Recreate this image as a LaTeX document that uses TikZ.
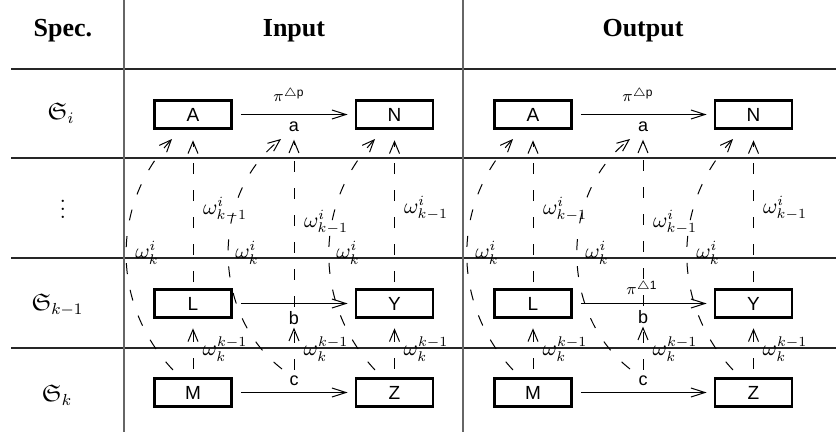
\documentclass[tikz,border=0pt]{standalone}
\usepackage{amsmath,amssymb}
\usepackage{fontspec}
\newfontfamily\hdr{Liberation Serif}
\newfontfamily\sfn{Liberation Sans}
\usetikzlibrary{arrows.meta,calc}
\begin{document}
\begin{tikzpicture}[x=0.5pt,y=-0.5pt,
  box/.style={draw,line width=1.4pt,minimum width=38.5pt,minimum height=14pt,inner sep=0pt,font=\sfn\fontsize{9.5}{11}\selectfont},
  lab/.style={inner sep=1pt,font=\sfn\fontsize{9}{11}\selectfont},
  hd/.style={anchor=base,font=\hdr\bfseries\fontsize{13}{15}\selectfont},
  rowl/.style={font=\fontsize{12}{14}\selectfont},
  om/.style={inner sep=0pt,font=\fontsize{10.5}{12}\selectfont},
  pil/.style={inner sep=0pt,font=\fontsize{8}{9}\selectfont},
  gridh/.style={line width=0.8pt,black!85},
  gridv/.style={line width=0.8pt,black!60},
  harr/.style={-{Straight Barb[length=7pt,width=4.5pt]},line width=0.5pt,shorten <=4pt,shorten >=3.5pt},
  dl/.style={dash pattern=on 5.5pt off 8pt,line width=0.5pt,-{Straight Barb[length=6pt,width=5pt]}},
]
\useasboundingbox (0,0) rectangle (836,434);
% table
\foreach \yy in {69,158,258,348} \draw[gridh] (11,\yy) -- (836,\yy);
\draw[gridv] (124,0) -- (124,432);
\draw[gridv] (463,0) -- (463,432);
\node[hd] (hs) at (63,36) {Spec.};
\node[hd] (hi) at (294,36) {Input};
\node[hd] (ho) at (643,36) {Output};
\node[rowl] (r1) at (61,113) {$\mathfrak{S}_i$};
\node[rowl] (r2) at (63,203) {$\vdots$};
\node[rowl] (r3) at (57.5,305) {$\mathfrak{S}_{k-1}$};
\node[rowl] (r4) at (57,395) {$\mathfrak{S}_k$};

% ---------- Input ----------
\node[box] (A1) at (193,114.5) {A};
\node[box] (N1) at (394.5,114.5) {N};
\node[box] (L1) at (193,303.5) {L};
\node[box] (Y1) at (394.5,303.5) {Y};
\node[box] (M1) at (193,392.5) {M};
\node[box] (Z1) at (394.5,392.5) {Z};
\node[lab] (a1) at (294,127) {a};
\node[lab] (b1) at (294,318) {b};
\node[lab] (c1) at (294,381) {c};
\node[pil] (p1) at (289,95) {$\pi^{\triangle\text{\sfn p}}$};
\draw[harr] (A1) -- (N1);
\draw[harr] (L1) -- (Y1);
\draw[harr] (M1) -- (Z1);
% vertical dashed
\draw[dl,shorten <=4.2pt,shorten >=4.7pt] (M1) -- (L1);
\draw[dl,shorten <=3pt,shorten >=5.2pt] (L1) -- (A1);
\draw[dl,shorten <=2pt,shorten >=0.3pt] (c1) -- (b1);
\draw[dl,shorten <=1pt,shorten >=2.7pt] (b1) -- (a1);
\draw[dl,shorten <=4.2pt,shorten >=4.7pt] (Z1) -- (Y1);
\draw[dl,shorten <=3pt,shorten >=5.2pt] (Y1) -- (N1);
% curved dashed
\coordinate (s11) at (173,370); \coordinate (e11) at (172,139);
\coordinate (s12) at (282,369); \coordinate (e12) at (281,139);
\coordinate (s13) at (375,370); \coordinate (e13) at (375,139);
\draw[dl] (s11) to[bend left=43] (e11);
\draw[dl] (s12) to[bend left=52] (e12);
\draw[dl] (s13) to[bend left=43] (e13);
% labels
\node[om] (w11) at (147,253) {$\omega_k^i$};
\node[om] (w12) at (247,253) {$\omega_k^i$};
\node[om] (w13) at (348,253) {$\omega_k^i$};
\node[om] (v11) at (225,209) {$\omega_{k-1}^i$};
\node[om] (v12) at (326,222) {$\omega_{k-1}^i$};
\node[om] (v13) at (426,208) {$\omega_{k-1}^i$};
\node[om] (u11) at (225,349) {$\omega_k^{k-1}$};
\node[om] (u12) at (326,349) {$\omega_k^{k-1}$};
\node[om] (u13) at (426,349) {$\omega_k^{k-1}$};

% ---------- Output ----------
\node[box] (A2) at (533,114.5) {A};
\node[box] (N2) at (753.5,114.5) {N};
\node[box] (L2) at (533,303.5) {L};
\node[box] (Y2) at (753.5,303.5) {Y};
\node[box] (M2) at (533,392.5) {M};
\node[box] (Z2) at (753.5,392.5) {Z};
\node[lab] (a2) at (643,127) {a};
\node[lab] (b2) at (643,317) {b};
\node[lab] (c2) at (643,381) {c};
\node[pil] (p2) at (638,95) {$\pi^{\triangle\text{\sfn p}}$};
\node[pil] (q2) at (642,288) {$\pi^{\triangle\text{\sfn 1}}$};
\draw[harr] (A2) -- (N2);
\draw[harr] (L2) -- (Y2);
\draw[harr] (M2) -- (Z2);
\draw[dl,shorten <=4.2pt,shorten >=4.7pt] (M2) -- (L2);
\draw[dl,shorten <=3pt,shorten >=5.2pt] (L2) -- (A2);
\draw[dl,shorten <=2pt,shorten >=0.3pt] (c2) -- (b2);
\draw[dl,shorten <=1pt,shorten >=2.7pt] (b2) -- (a2);
\draw[dl,shorten <=4.2pt,shorten >=4.7pt] (Z2) -- (Y2);
\draw[dl,shorten <=3pt,shorten >=5.2pt] (Y2) -- (N2);
\coordinate (s21) at (513,370); \coordinate (e21) at (513,139);
\coordinate (s22) at (630,369); \coordinate (e22) at (630,139);
\coordinate (s23) at (733,370); \coordinate (e23) at (733,139);
\draw[dl] (s21) to[bend left=43] (e21);
\draw[dl] (s22) to[bend left=52] (e22);
\draw[dl] (s23) to[bend left=43] (e23);
\node[om] (w21) at (487,253) {$\omega_k^i$};
\node[om] (w22) at (597,253) {$\omega_k^i$};
\node[om] (w23) at (708,253) {$\omega_k^i$};
\node[om] (v21) at (565,209) {$\omega_{k-1}^i$};
\node[om] (v22) at (675,222) {$\omega_{k-1}^i$};
\node[om] (v23) at (785,208) {$\omega_{k-1}^i$};
\node[om] (u21) at (565,349) {$\omega_k^{k-1}$};
\node[om] (u22) at (675,349) {$\omega_k^{k-1}$};
\node[om] (u23) at (785,349) {$\omega_k^{k-1}$};
\end{tikzpicture}
\end{document}
